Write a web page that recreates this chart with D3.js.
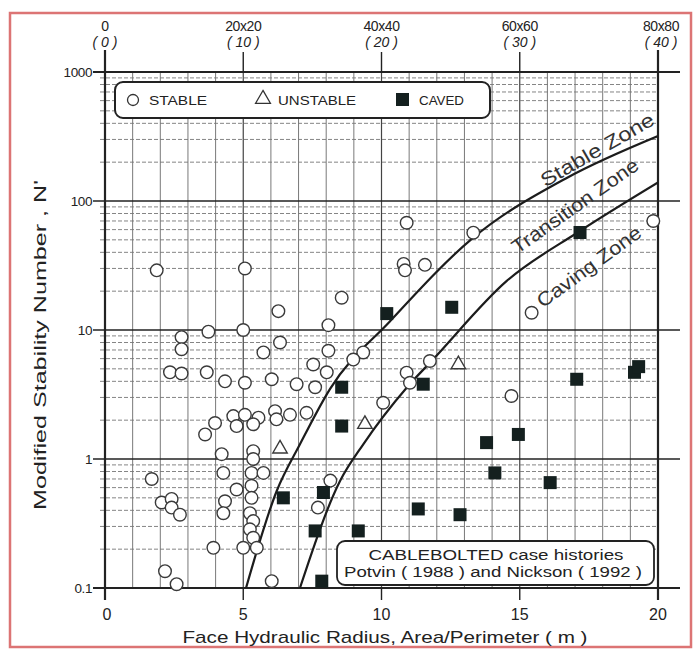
<!DOCTYPE html>
<html>
<head>
<meta charset="utf-8">
<script src="https://cdn.jsdelivr.net/npm/d3@7"></script>
<style>
  html, body { margin: 0; padding: 0; background: #fff; }
  svg { display: block; font-family: "Liberation Sans", Arial, sans-serif; }
</style>
</head>
<body>
<svg id="chart" width="700" height="655"></svg>
<script>
// Axis ticks and labels
const hrTicks = [0, 5, 10, 15, 20];
const hrLabels = ["0", "5", "10", "15", "20"];
const squareLabels = ["0", "20x20", "40x40", "60x60", "80x80"];
const squareSubLabels = ["( 0 )", "( 10 )", "( 20 )", "( 30 )", "( 40 )"];
const nTicks = [0.1, 1, 10, 100, 1000];
const nLabels = ["0.1", "1", "10", "100", "1000"];

// Case histories: [hydraulic radius (m), modified stability number N']
const stable = [
  [1.87, 29], [5.06, 30], [8.56, 17.8], [6.27, 14], [3.74, 9.7], [5.0, 10],
  [8.08, 10.9], [2.77, 8.8], [2.77, 7.1], [6.33, 8.0], [5.73, 6.7], [8.08, 6.9],
  [7.53, 5.4], [2.35, 4.7], [2.77, 4.6], [3.68, 4.7], [4.34, 4.0], [5.06, 3.9],
  [6.03, 4.15], [6.93, 3.8], [7.6, 3.6], [8.02, 4.7], [4.64, 2.15], [5.06, 2.2],
  [5.55, 2.09], [6.15, 2.35], [6.69, 2.2], [7.29, 2.28], [4.76, 1.8], [5.36, 1.86],
  [6.2, 2.03], [3.98, 1.9], [3.62, 1.55], [4.22, 1.09], [5.36, 1.15], [5.36, 1.0],
  [1.69, 0.70], [4.28, 0.78], [5.3, 0.78], [5.73, 0.78], [4.76, 0.58], [5.3, 0.62],
  [4.34, 0.47], [5.3, 0.5], [2.05, 0.46], [2.41, 0.49], [2.41, 0.42], [2.71, 0.37],
  [4.28, 0.38], [5.24, 0.38], [5.36, 0.33], [5.24, 0.285], [5.36, 0.245], [5.0, 0.205],
  [5.49, 0.205], [3.92, 0.205], [2.17, 0.135], [2.59, 0.107], [6.03, 0.113],
  [8.15, 0.68], [7.7, 0.42],
  [10.91, 67.8], [13.32, 56.8], [10.8, 32.5], [10.85, 29], [11.57, 32], [15.43, 13.6],
  [19.83, 70], [14.7, 3.08], [9.34, 6.7], [8.98, 5.9], [11.75, 5.75], [10.91, 4.67],
  [11.03, 3.9], [10.06, 2.73]
];
const unstable = [[6.33, 1.2], [9.4, 1.86], [12.78, 5.4]];
const caved = [
  [6.45, 0.5], [7.9, 0.55], [7.6, 0.277], [7.84, 0.113], [9.16, 0.277], [11.33, 0.41],
  [12.84, 0.37], [10.19, 13.4], [12.54, 15], [8.56, 3.6], [11.51, 3.8], [17.06, 4.15],
  [19.15, 4.7], [19.3, 5.2], [8.56, 1.8], [13.8, 1.34], [14.95, 1.55], [14.1, 0.78],
  [16.1, 0.656], [17.18, 57]
];

// Zone boundaries
const stableBoundary = [
  [5.1, 0.1], [6.21, 0.565], [7.05, 1.3], [8.14, 3.5], [10.31, 11.7],
  [13.32, 52], [16.7, 151], [20.0, 319]
];
const cavingBoundary = [
  [7.05, 0.1], [8.5, 0.675], [9.34, 1.3], [10.91, 3.57], [11.87, 5.93],
  [14.53, 24], [17.18, 58.5], [20.0, 139]
];

const svg = d3.select("#chart");
const x = d3.scaleLinear().domain([0, 20]).range([105, 658]);
const y = d3.scaleLog().domain([0.1, 1000]).range([588, 72]);

// Outer frame
svg.append("rect").attr("x", 10).attr("y", 13).attr("width", 681).attr("height", 634)
  .attr("fill", "#fff").attr("stroke", "#dc7474").attr("stroke-width", 2.5);

const grid = svg.append("g");

// Vertical grid: every metre of hydraulic radius
grid.selectAll("line.v").data(d3.range(1, 20)).join("line")
  .attr("x1", d => x(d)).attr("x2", d => x(d))
  .attr("y1", y(1000)).attr("y2", y(0.1))
  .attr("stroke", d => d % 5 === 0 ? "#444" : "#6a6a6a")
  .attr("stroke-width", d => d % 5 === 0 ? 1.2 : 0.9);

// Minor horizontal grid (2..9 of each decade), dashed
const minorN = [];
[0.1, 1, 10, 100].forEach(dec => d3.range(2, 10).forEach(k => minorN.push(dec * k)));
grid.selectAll("line.h").data(minorN).join("line")
  .attr("x1", x(0) - 5).attr("x2", x(20))
  .attr("y1", d => y(d)).attr("y2", d => y(d))
  .attr("stroke", "#777").attr("stroke-width", 0.9)
  .attr("stroke-dasharray", "4,2");

// Decade lines
grid.selectAll("line.dec").data(nTicks).join("line")
  .attr("x1", x(0) - 12).attr("x2", 680)
  .attr("y1", d => y(d)).attr("y2", d => y(d))
  .attr("stroke", "#222")
  .attr("stroke-width", d => (d === 0.1 || d === 1000) ? 2.2 : 1.6);

// Frame verticals at 0 and 20 m, long ticks at 5, 10, 15
grid.selectAll("line.frame").data(hrTicks).join("line")
  .attr("x1", d => x(d)).attr("x2", d => x(d))
  .attr("y1", d => (d === 0 || d === 20) ? 50 : 52)
  .attr("y2", d => (d === 0 || d === 20) ? 600 : y(1000))
  .attr("stroke", "#222").attr("stroke-width", d => (d === 0 || d === 20) ? 2.2 : 1.4);
grid.selectAll("line.btick").data(hrTicks.filter(d => d > 0 && d < 20)).join("line")
  .attr("x1", d => x(d)).attr("x2", d => x(d))
  .attr("y1", y(0.1)).attr("y2", 600)
  .attr("stroke", "#222").attr("stroke-width", 1.4);

// Y axis labels
svg.append("g").selectAll("text").data(nTicks).join("text")
  .attr("x", 92).attr("y", d => y(d)).attr("dy", "0.35em")
  .attr("text-anchor", "end").attr("font-size", 13.5).attr("fill", "#222")
  .attr("letter-spacing", -0.4)
  .text((d, i) => nLabels[i]);

// Bottom axis labels
svg.append("g").selectAll("text").data(hrTicks).join("text")
  .attr("x", d => x(d) + (d === 0 ? 2 : 0)).attr("y", 620)
  .attr("text-anchor", "middle").attr("font-size", 16).attr("fill", "#222")
  .text((d, i) => hrLabels[i]);

// Top axis: opening size and (hydraulic radius)
const topAxis = svg.append("g");
topAxis.selectAll("text.sq").data(hrTicks).join("text")
  .attr("class", "sq")
  .attr("x", d => x(d) + (d === 20 ? 3 : 0)).attr("y", 31)
  .attr("text-anchor", "middle").attr("font-size", 14).attr("fill", "#222")
  .attr("letter-spacing", -0.4)
  .text((d, i) => squareLabels[i]);
topAxis.selectAll("text.hr").data(hrTicks).join("text")
  .attr("class", "hr")
  .attr("x", d => x(d) + (d === 20 ? 3 : 0)).attr("y", 47)
  .attr("text-anchor", "middle").attr("font-size", 14).attr("font-style", "italic")
  .attr("fill", "#222")
  .text((d, i) => squareSubLabels[i]);

// Axis titles
svg.append("text").attr("x", 385).attr("y", 643).attr("text-anchor", "middle")
  .attr("font-size", 17).attr("fill", "#222")
  .attr("textLength", 405).attr("lengthAdjust", "spacingAndGlyphs")
  .text("Face Hydraulic Radius, Area/Perimeter   ( m )");
svg.append("text").attr("transform", "translate(46,345) rotate(-90)")
  .attr("text-anchor", "middle").attr("font-size", 17).attr("fill", "#222")
  .attr("textLength", 330).attr("lengthAdjust", "spacingAndGlyphs")
  .text("Modified Stability Number , N'");

// Zone boundaries
svg.append("clipPath").attr("id", "plotClip").append("rect")
  .attr("x", x(0)).attr("y", y(1000)).attr("width", x(20) - x(0)).attr("height", y(0.1) - y(1000));
const line = d3.line().x(d => x(d[0])).y(d => y(d[1])).curve(d3.curveMonotoneX);
svg.append("g").attr("clip-path", "url(#plotClip)").selectAll("path")
  .data([stableBoundary, cavingBoundary]).join("path")
  .attr("d", line).attr("fill", "none").attr("stroke", "#1c1c1c").attr("stroke-width", 2.2);

// Zone labels
const zones = [
  { t: "Stable Zone", hr: 17.8, n: 250, a: -30, len: 128 },
  { t: "Transition Zone", hr: 17.0, n: 92, a: -35, len: 150 },
  { t: "Caving Zone", hr: 17.5, n: 31, a: -36, len: 124 }
];
svg.append("g").selectAll("text").data(zones).join("text")
  .attr("transform", d => `translate(${x(d.hr)},${y(d.n)}) rotate(${d.a})`)
  .attr("text-anchor", "middle").attr("dy", "0.35em")
  .attr("font-size", 19.5).attr("fill", "#333")
  .attr("textLength", d => d.len).attr("lengthAdjust", "spacingAndGlyphs")
  .text(d => d.t);

// Markers
const pts = svg.append("g");
pts.selectAll("circle").data(stable).join("circle")
  .attr("cx", d => x(d[0])).attr("cy", d => y(d[1])).attr("r", 6.3)
  .attr("fill", "#fff").attr("stroke", "#3a3a3a").attr("stroke-width", 1.4);
const tri = d3.symbol().type(d3.symbolTriangle).size(90);
pts.selectAll("path.tri").data(unstable).join("path")
  .attr("class", "tri")
  .attr("transform", d => `translate(${x(d[0])},${y(d[1])})`)
  .attr("d", tri).attr("fill", "#fff").attr("stroke", "#3a3a3a").attr("stroke-width", 1.4);
pts.selectAll("rect").data(caved).join("rect")
  .attr("x", d => x(d[0]) - 6.5).attr("y", d => y(d[1]) - 6.5)
  .attr("width", 13).attr("height", 13)
  .attr("fill", "#14201f");

// Legend
const lg = svg.append("g");
lg.append("rect").attr("x", 115).attr("y", 82).attr("width", 375).attr("height", 36).attr("rx", 8)
  .attr("fill", "#fff").attr("stroke", "#222").attr("stroke-width", 2);
lg.append("circle").attr("cx", 133).attr("cy", 100).attr("r", 5.5)
  .attr("fill", "#fff").attr("stroke", "#333").attr("stroke-width", 1.3);
lg.append("path").attr("transform", "translate(263,99)").attr("d", d3.symbol().type(d3.symbolTriangle).size(95))
  .attr("fill", "#fff").attr("stroke", "#333").attr("stroke-width", 1.3);
lg.append("rect").attr("x", 396).attr("y", 93).attr("width", 13).attr("height", 13).attr("fill", "#14201f");
const legendText = [["STABLE", 149, 58], ["UNSTABLE", 278, 78], ["CAVED", 419, 45]];
lg.selectAll("text").data(legendText).join("text")
  .attr("x", d => d[1]).attr("y", 100).attr("dy", "0.35em")
  .attr("font-size", 13).attr("fill", "#222")
  .attr("textLength", d => d[2]).attr("lengthAdjust", "spacingAndGlyphs")
  .text(d => d[0]);

// Source note
const note = svg.append("g");
note.append("rect").attr("x", 337).attr("y", 541).attr("width", 317).attr("height", 44).attr("rx", 8)
  .attr("fill", "#fff").attr("stroke", "#222").attr("stroke-width", 1.8);
note.append("text").attr("x", 496).attr("y", 555).attr("dy", "0.35em").attr("text-anchor", "middle")
  .attr("font-size", 14).attr("fill", "#222")
  .attr("textLength", 255).attr("lengthAdjust", "spacingAndGlyphs")
  .text("CABLEBOLTED case histories");
note.append("text").attr("x", 493).attr("y", 572).attr("dy", "0.35em").attr("text-anchor", "middle")
  .attr("font-size", 14).attr("fill", "#222")
  .attr("textLength", 298).attr("lengthAdjust", "spacingAndGlyphs")
  .text("Potvin ( 1988 ) and Nickson ( 1992 )");
</script>
</body>
</html>
